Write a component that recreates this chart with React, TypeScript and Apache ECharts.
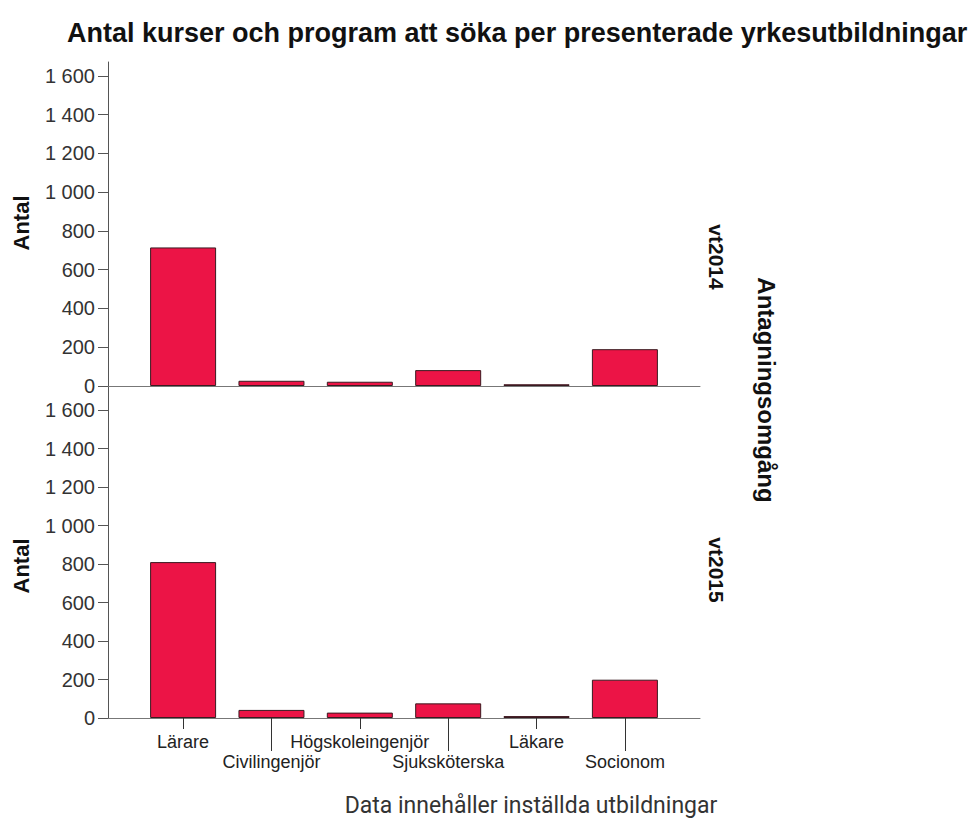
import React, { useEffect, useRef } from 'react';
import * as echarts from 'echarts';

const categories = ['Lärare', 'Civilingenjör', 'Högskoleingenjör', 'Sjuksköterska', 'Läkare', 'Socionom'];
const values2014 = [715, 27, 22, 82, 9, 190];
const values2015 = [810, 42, 28, 76, 10, 199];
const yTicks = [0, 200, 400, 600, 800, 1000, 1200, 1400, 1600];
const panelLabels = ['vt2014', 'vt2015'];
const titleText = 'Antal kurser och program att söka per presenterade yrkesutbildningar';
const yName = 'Antal';
const panelName = 'Antagningsomgång';
const footnote = 'Data innehåller inställda utbildningar';

const fmt = (v: number) =>
  v >= 1000 ? `${Math.floor(v / 1000)} ${String(v % 1000).padStart(3, '0')}` : String(v);

const FONT = 'Liberation Sans, Arial, sans-serif';
const BAR = '#ec1446';
const AXIS = '#555555';

export default function App() {
  const ref = useRef<HTMLDivElement>(null);
  useEffect(() => {
    document.body.style.margin = '0';
    if (!ref.current) return;
    const chart = echarts.init(ref.current, undefined, { renderer: 'svg' });
    const evenIdx = categories.map((_, i) => i).filter((i) => i % 2 === 0);
    const oddIdx = categories.map((_, i) => i).filter((i) => i % 2 === 1);
    const xBase = {
      type: 'value' as const,
      min: -0.85,
      max: 5.85,
      splitLine: { show: false },
      axisLine: { show: true, onZero: false, lineStyle: { color: '#777', width: 1 } },
    };
    const yBase = (max: number) => ({
      type: 'value' as const,
      min: 0,
      max,
      splitLine: { show: false },
      axisLine: { show: true, onZero: false, lineStyle: { color: AXIS, width: 1 } },
      axisTick: { show: true, length: 10, customValues: yTicks, lineStyle: { color: AXIS } },
      axisLabel: {
        customValues: yTicks,
        formatter: (v: number) => fmt(v),
        color: '#333',
        fontFamily: FONT,
        fontSize: 20,
        margin: 13,
      },
    });
    const barStyle = { color: BAR, borderColor: '#3a1a20', borderWidth: 1 };
    const xLabel = {
      formatter: (v: number) => categories[Math.round(v)],
      color: '#222',
      fontFamily: FONT,
      fontSize: 18,
    };
    chart.setOption({
      animation: false,
      backgroundColor: '#ffffff',
      title: {
        text: titleText,
        left: 62,
        top: 14,
        textStyle: { fontFamily: FONT, fontWeight: 'bold', fontSize: 27, color: '#111' },
      },
      grid: [
        { left: 108, width: 592, top: 62, height: 324 },
        { left: 108, width: 592, top: 386, height: 332 },
      ],
      xAxis: [
        { ...xBase, gridIndex: 0, axisTick: { show: false }, axisLabel: { show: false } },
        {
          ...xBase,
          gridIndex: 1,
          position: 'bottom',
          axisTick: { show: true, length: 11, customValues: evenIdx, lineStyle: { color: '#333' } },
          axisLabel: { ...xLabel, customValues: evenIdx, margin: 15 },
        },
        {
          ...xBase,
          gridIndex: 1,
          position: 'bottom',
          axisLine: { show: false },
          axisTick: { show: true, length: 33, customValues: oddIdx, lineStyle: { color: '#333' } },
          axisLabel: { ...xLabel, customValues: oddIdx, margin: 35 },
        },
      ],
      yAxis: [
        { ...yBase(1672), gridIndex: 0 },
        { ...yBase(1725), gridIndex: 1 },
      ],
      series: [
        {
          type: 'bar',
          name: panelLabels[0],
          xAxisIndex: 0,
          yAxisIndex: 0,
          barWidth: 66,
          itemStyle: barStyle,
          data: values2014.map((v, i) => [i, v]),
        },
        {
          type: 'bar',
          name: panelLabels[1],
          xAxisIndex: 1,
          yAxisIndex: 1,
          barWidth: 66,
          itemStyle: barStyle,
          data: values2015.map((v, i) => [i, v]),
        },
      ],
      graphic: [
        {
          type: 'text',
          x: 21,
          y: 223,
          rotation: Math.PI / 2,
          style: { text: yName, font: `bold 22px ${FONT}`, fill: '#111', align: 'center', verticalAlign: 'middle' },
        },
        {
          type: 'text',
          x: 21,
          y: 566,
          rotation: Math.PI / 2,
          style: { text: yName, font: `bold 22px ${FONT}`, fill: '#111', align: 'center', verticalAlign: 'middle' },
        },
        {
          type: 'text',
          x: 716,
          y: 257,
          rotation: -Math.PI / 2,
          style: { text: panelLabels[0], font: `bold 21px ${FONT}`, fill: '#111', align: 'center', verticalAlign: 'middle' },
        },
        {
          type: 'text',
          x: 716,
          y: 570,
          rotation: -Math.PI / 2,
          style: { text: panelLabels[1], font: `bold 21px ${FONT}`, fill: '#111', align: 'center', verticalAlign: 'middle' },
        },
        {
          type: 'text',
          x: 766,
          y: 390,
          rotation: -Math.PI / 2,
          style: { text: panelName, font: `bold 24px ${FONT}`, fill: '#111', align: 'center', verticalAlign: 'middle' },
        },
        {
          type: 'text',
          x: 531,
          y: 805,
          style: { text: footnote, font: `23px Roboto, ${FONT}`, fill: '#333', align: 'center', verticalAlign: 'middle' },
        },
      ],
    });
    return () => chart.dispose();
  }, []);
  return <div ref={ref} style={{ width: 978, height: 823 }} />;
}
